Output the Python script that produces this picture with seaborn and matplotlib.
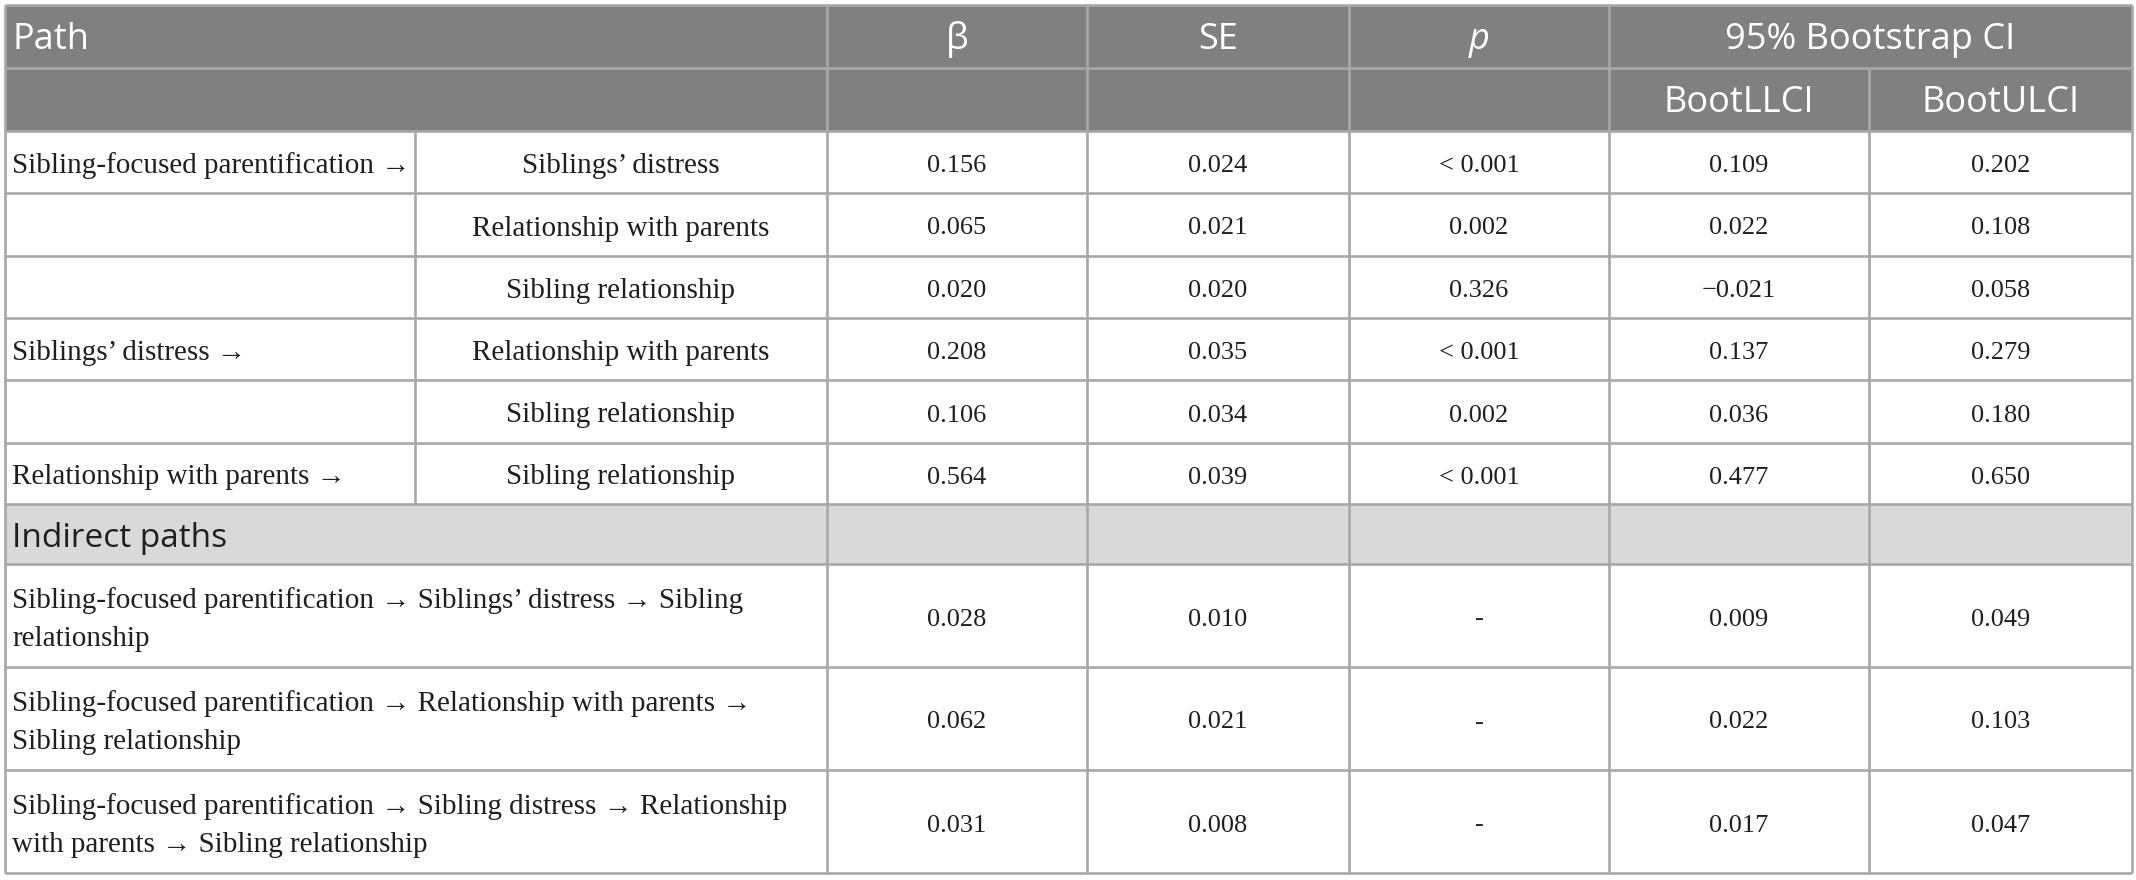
import matplotlib
matplotlib.use("Agg")
import matplotlib.pyplot as plt
from matplotlib.patches import Rectangle
import seaborn as sns

# ---------------- data ----------------
header_top = ["Path", "β", "SE", "p", "95% Bootstrap CI"]
header_sub = ["BootLLCI", "BootULCI"]

direct_from = ["Sibling-focused parentification →", "", "",
               "Siblings’ distress →", "",
               "Relationship with parents →"]
direct_to = ["Siblings’ distress", "Relationship with parents", "Sibling relationship",
             "Relationship with parents", "Sibling relationship",
             "Sibling relationship"]
direct_beta = ["0.156", "0.065", "0.020", "0.208", "0.106", "0.564"]
direct_se = ["0.024", "0.021", "0.020", "0.035", "0.034", "0.039"]
direct_p = ["< 0.001", "0.002", "0.326", "< 0.001", "0.002", "< 0.001"]
direct_llci = ["0.109", "0.022", "−0.021", "0.137", "0.036", "0.477"]
direct_ulci = ["0.202", "0.108", "0.058", "0.279", "0.180", "0.650"]

section_label = "Indirect paths"
indirect_path = [
    "Sibling-focused parentification → Siblings’ distress → Sibling\nrelationship",
    "Sibling-focused parentification → Relationship with parents →\nSibling relationship",
    "Sibling-focused parentification → Sibling distress → Relationship\nwith parents → Sibling relationship",
]
indirect_beta = ["0.028", "0.062", "0.031"]
indirect_se = ["0.010", "0.021", "0.008"]
indirect_p = ["-", "-", "-"]
indirect_llci = ["0.009", "0.022", "0.017"]
indirect_ulci = ["0.049", "0.103", "0.047"]

# ---------------- layout (pixels) ----------------
W, H = 2136, 880
xs = [5, 415, 827, 1087, 1349, 1609, 1869, 2132]
ys = [5, 68, 131, 193, 256, 318, 380, 443, 504, 564, 667, 770, 873]

HEAD_BG = "#808080"
SEC_BG = "#d9d9d9"
LINE = "#a8a8a8"
TXT = "#1f1f1f"
LW = 1.9

sns.set_theme(style="white")
plt.rcParams["font.family"] = ["DejaVu Sans"]

fig = plt.figure(figsize=(W / 100, H / 100), dpi=100)
ax = fig.add_axes([0, 0, 1, 1])
ax.set_xlim(0, W)
ax.set_ylim(H, 0)
ax.axis("off")

# backgrounds
ax.add_patch(Rectangle((xs[0], ys[0]), xs[-1] - xs[0], ys[2] - ys[0],
                       facecolor=HEAD_BG, edgecolor="none", zorder=0))
ax.add_patch(Rectangle((xs[0], ys[8]), xs[-1] - xs[0], ys[9] - ys[8],
                       facecolor=SEC_BG, edgecolor="none", zorder=0))

# horizontal lines
for y in ys:
    ax.plot([xs[0], xs[-1]], [y, y], color=LINE, lw=LW, zorder=1,
            solid_capstyle="butt")


def vline(x, y0, y1):
    ax.plot([x, x], [y0, y1], color=LINE, lw=LW, zorder=1, solid_capstyle="butt")


vline(xs[0], ys[0], ys[-1])
vline(xs[-1], ys[0], ys[-1])
vline(xs[1], ys[2], ys[8])
for x in xs[2:6]:
    vline(x, ys[0], ys[-1])
vline(xs[6], ys[1], ys[-1])

SANS = ["Open Sans", "DejaVu Sans"]
SERIF = ["Liberation Serif", "DejaVu Serif"]
HS = 26      # header sans
SS = 24      # section label sans
LS = 21      # serif labels
NS = 19      # serif numbers
BOFF = 4     # vertical nudge of body text (px)


def cx(i):
    return (xs[i] + xs[i + 1]) / 2


def cy(j):
    return (ys[j] + ys[j + 1]) / 2


def base(j, size):
    # baseline so that capitals are centred in row j
    return cy(j) + 0.357 * size * 100 / 72


hkw = dict(color="white", fontsize=HS, family=SANS, va="baseline")
ax.text(12, base(0, HS), header_top[0], ha="left", **hkw)
ax.text(cx(2), base(0, HS), header_top[1], ha="center", **hkw)
ax.text(cx(3), base(0, HS), header_top[2], ha="center", **hkw)
ax.text(cx(4), base(0, HS), header_top[3], ha="center", style="italic", **hkw)
ax.text((xs[5] + xs[7]) / 2, base(0, HS), header_top[4], ha="center", **hkw)
ax.text(cx(5), base(1, HS), header_sub[0], ha="center", **hkw)
ax.text(cx(6), base(1, HS), header_sub[1], ha="center", **hkw)

# direct rows
for k in range(len(direct_to)):
    j = 2 + k
    y = cy(j) + BOFF
    if direct_from[k]:
        ax.text(12, y, direct_from[k], color=TXT, fontsize=LS, family=SERIF,
                ha="left", va="center")
    ax.text(cx(1), y, direct_to[k], color=TXT, fontsize=LS, family=SERIF,
            ha="center", va="center")
    for i, col in zip(range(2, 7), [direct_beta, direct_se, direct_p,
                                    direct_llci, direct_ulci]):
        ax.text(cx(i), y, col[k], color=TXT, fontsize=NS, family=SERIF,
                ha="center", va="center")

# section row
ax.text(12, base(8, HS), section_label, color=TXT, fontsize=SS, family=SANS,
        ha="left", va="baseline")

# indirect rows
for k in range(len(indirect_path)):
    j = 9 + k
    y = cy(j) + BOFF
    ax.text(12, y, indirect_path[k], color=TXT, fontsize=LS, family=SERIF,
            ha="left", va="center", linespacing=1.62)
    for i, col in zip(range(2, 7), [indirect_beta, indirect_se, indirect_p,
                                    indirect_llci, indirect_ulci]):
        ax.text(cx(i), y, col[k], color=TXT, fontsize=NS, family=SERIF,
                ha="center", va="center")

fig.savefig("out.png", dpi=100, facecolor="white")
